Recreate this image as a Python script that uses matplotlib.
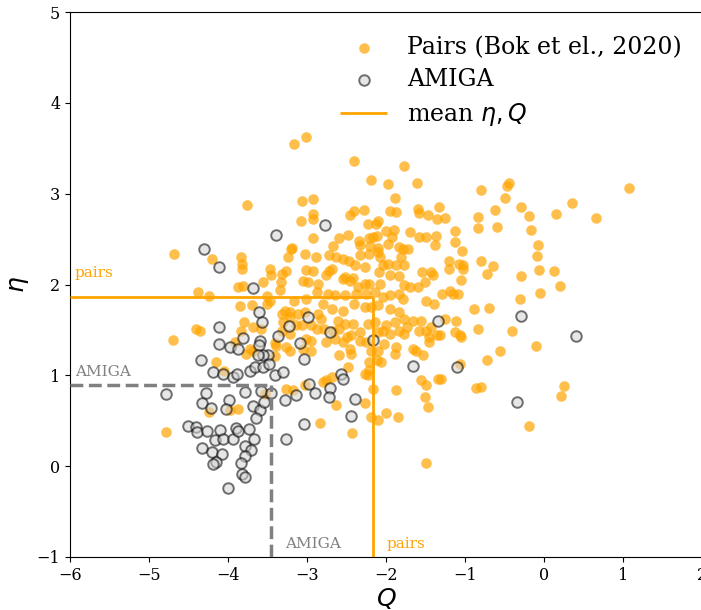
import matplotlib

matplotlib.use("Agg")

import matplotlib.pyplot as plt

# ── Data ─────────────────────────────────────────────────────────────────────
pairs_q = [
    -3.17, -3.01, -2.40, -1.77, -2.19, -1.98, -1.61, -1.89, -3.07, -2.92, -3.08, -2.93, -2.92,
    -2.46, -2.41, -2.28, -1.95, -1.88, -1.60, -1.58, -1.47, -1.36, -1.33, -2.23, -2.13, -2.10,
    -2.00, -1.90, -1.70, -2.92, -2.60, -2.48, -2.34, -2.33, -2.21, -2.17, -2.11, -2.20, -2.10,
    -1.98, -1.92, -1.83, -1.79, -1.72, -1.58, -1.49, -1.37, -1.38, -2.67, -2.72, -2.63, -2.54,
    -2.47, -2.39, -2.26, -2.21, -2.10, -2.08, -2.33, -1.81, -1.77, -2.04, -1.98, -1.87, -1.55,
    -1.43, -3.19, -3.03, -2.89, -3.01, -2.93, -2.72, -2.68, -2.76, -2.09, -1.95, -1.83, -2.52,
    -2.42, -1.40,
    # right-hand upper group
    -0.80, -0.44, -0.47, -0.50, -0.62, -0.29, -0.19, 0.15, 0.35, -0.84, -0.83, -0.59, -0.16,
    -1.25, -1.13, -1.13, -1.04, -0.08, -0.09, -0.07, 0.13, -0.80, -0.65, -0.72, -0.29, -1.20,
    -1.20, -1.08, -1.03, -1.02, -1.05, 1.07, 0.66,
    # right-hand lower group
    0.20, -0.05, -0.31, -1.29, -1.19, -1.15, -1.09, -0.89, -0.70, -1.12, -1.26, -1.43, -1.32,
    -1.45, -1.13, -1.07, -1.05, -0.83, -0.41, -0.56, -0.10, -0.72, -1.07, -1.30, -0.86, -0.80,
    0.25, 0.22, -0.19, -1.49, -2.43,
    # central dense block
    -3.05, -2.99, -2.86, -2.54, -2.46, -2.36, -2.27, -2.21, -2.08, -1.77, -1.70, -1.60, -1.51,
    -2.88, -2.73, -2.65, -2.52, -2.38, -2.25, -2.14, -2.04, -1.95, -1.83, -1.79, -1.49, -1.39,
    -3.16, -3.01, -2.80, -2.69, -2.54, -2.40, -2.27, -2.19, -2.10, -1.95, -1.83, -1.77, -1.66,
    -1.56, -3.22, -3.11, -3.03, -2.86, -2.82, -2.61, -2.52, -2.42, -2.33, -2.23, -2.14, -2.00,
    -1.89, -1.74, -3.14, -3.07, -2.95, -2.88, -2.78, -2.67, -2.59, -2.50, -2.44, -2.33, -2.25,
    -2.10, -2.04, -1.95, -1.83, -1.77, -1.58, -1.49, -1.45, -1.36, -3.22, -3.01, -2.95, -2.76,
    -2.65, -2.54, -2.19, -2.10, -2.02, -1.87, -1.89, -1.66, -1.62, -1.53, -3.22, -3.05, -2.95,
    -2.59, -2.46, -2.44, -2.21, -2.12, -2.06, -2.48, -2.27, -2.21, -2.23, -2.76, -2.69, -2.80,
    -3.03, -3.18, -2.17, -1.87, -1.56, -1.49, -1.34, -2.63, -2.27, -1.51, -1.47, -2.00, -1.85,
    -2.19, -2.10, -2.84,
    # left group
    -3.76, -4.68, -4.20, -3.83, -3.82, -3.82, -3.88, -3.81, -4.38, -4.24, -3.56, -3.51, -3.47,
    -3.46, -3.32, -3.33, -3.34, -3.24, -3.20, -3.26, -3.47, -3.51, -3.85, -3.70, -3.80, -3.84,
    -3.68, -3.58, -4.41, -4.36, -4.70, -3.32, -3.28, -3.22, -3.30, -3.32, -3.26, -3.91, -3.72,
    -3.77, -3.68, -3.41, -3.39, -3.40, -4.15, -4.05, -4.79, -4.24, -3.98, -3.88, -3.26, -3.53,
]
pairs_eta = [
    3.55, 3.62, 3.36, 3.31, 3.15, 3.11, 3.12, 2.95, 2.92, 2.94, 2.70, 2.78, 2.72,
    2.77, 2.81, 2.82, 2.81, 2.80, 2.83, 2.79, 2.76, 2.72, 2.85, 2.67, 2.67, 2.70,
    2.59, 2.60, 2.58, 2.51, 2.51, 2.54, 2.48, 2.43, 2.51, 2.52, 2.53, 2.42, 2.40,
    2.45, 2.52, 2.41, 2.39, 2.39, 2.52, 2.52, 2.53, 2.43, 2.42, 2.32, 2.30, 2.28,
    2.26, 2.21, 2.19, 2.34, 2.36, 2.30, 2.32, 2.30, 2.22, 2.21, 2.23, 2.22, 2.14,
    2.14, 2.40, 2.34, 2.30, 2.16, 2.15, 2.15, 2.17, 2.10, 2.14, 2.11, 2.09, 2.08,
    2.07, 2.11,
    3.04, 3.12, 3.08, 2.95, 2.82, 2.85, 2.75, 2.78, 2.90, 2.74, 2.62, 2.63, 2.60,
    2.73, 2.59, 2.47, 2.37, 2.44, 2.31, 2.16, 2.15, 2.26, 2.20, 2.12, 2.09, 2.26,
    2.17, 2.23, 2.21, 2.17, 2.05, 3.06, 2.73,
    1.98, 1.91, 1.84, 1.90, 1.93, 1.89, 1.90, 1.73, 1.74, 1.60, 1.62, 1.53, 1.44,
    1.37, 1.48, 1.44, 1.42, 1.51, 1.49, 1.27, 1.32, 1.17, 1.13, 0.96, 0.86, 0.87,
    0.88, 0.77, 0.44, 0.04, 0.36,
    2.04, 2.03, 2.01, 2.06, 2.04, 1.97, 2.01, 2.01, 2.01, 1.99, 1.97, 1.97, 2.03,
    1.92, 1.90, 1.88, 1.88, 1.90, 1.90, 1.92, 1.86, 1.88, 1.90, 1.84, 1.82, 1.79,
    1.82, 1.84, 1.79, 1.73, 1.71, 1.79, 1.75, 1.75, 1.77, 1.73, 1.70, 1.62, 1.60,
    1.60, 1.70, 1.68, 1.70, 1.68, 1.62, 1.60, 1.57, 1.57, 1.48, 1.57, 1.59, 1.55,
    1.59, 1.53, 1.55, 1.55, 1.55, 1.51, 1.51, 1.49, 1.51, 1.42, 1.44, 1.38, 1.37,
    1.48, 1.49, 1.46, 1.49, 1.46, 1.49, 1.49, 1.42, 1.44, 1.46, 1.40, 1.38, 1.37,
    1.40, 1.37, 1.27, 1.27, 1.35, 1.31, 1.24, 1.29, 1.27, 1.22, 1.27, 1.29, 1.27,
    1.22, 1.29, 1.24, 1.15, 1.17, 1.15, 1.09, 1.02, 1.06, 1.00, 0.95, 0.98, 0.93,
    0.89, 0.84, 0.85, 0.84, 0.95, 0.89, 0.96, 0.67, 0.69, 0.76, 0.65, 0.59, 0.54,
    0.54, 0.51, 0.47,
    2.88, 2.34, 2.28, 2.30, 2.23, 2.17, 1.97, 1.98, 1.92, 1.87, 2.03, 1.87, 2.17,
    2.11, 2.12, 2.03, 1.94, 2.30, 2.39, 2.15, 1.82, 1.79, 1.76, 1.77, 1.59, 1.49,
    1.53, 1.51, 1.51, 1.49, 1.39, 1.68, 1.71, 1.64, 1.59, 1.49, 1.31, 1.37, 1.29,
    1.23, 1.27, 1.36, 1.32, 1.21, 1.15, 1.05, 0.38, 0.60, 0.62, 0.63, 0.85, 0.79,
]

amiga_q = [
    -4.31, -4.11, -3.39, -2.77, -3.68, -3.61, -3.57, -4.12, -3.81, -3.98, -3.88, -4.11, -3.60,
    -3.61, -3.37, -3.23, -4.34, -4.19, -4.06, -3.94, -3.89, -3.72, -3.66, -3.56, -3.49, -3.56,
    -3.62, -3.41, -3.31, -3.48,
    -2.99, -2.71, -3.09, -3.04, -2.17, -1.66, -1.34, -2.57, -2.55, -2.97, -3.14, -2.90, -2.71,
    -2.72, -2.39, -2.44, -3.04, -3.28, -3.26, -0.29, 0.40, -1.10, -0.34,
    -4.79, -4.28, -4.33, -4.21, -3.99, -4.02, -3.79, -3.69, -3.60, -3.65, -3.58, -3.55, -3.45,
    -4.51, -4.41, -4.39, -4.26, -4.10, -4.16, -4.07, -3.94, -3.90, -3.87, -3.74, -3.67, -4.33,
    -4.20, -4.08, -4.15, -4.19, -3.78, -3.71, -3.79, -3.84, -3.82, -3.79, -4.00,
]
amiga_eta = [
    2.39, 2.19, 2.54, 2.66, 1.96, 1.70, 1.59, 1.53, 1.41, 1.31, 1.29, 1.35, 1.38,
    1.33, 1.43, 1.54, 1.17, 1.04, 1.01, 0.98, 1.01, 1.05, 1.09, 1.09, 1.22, 1.22,
    1.22, 1.00, 1.04, 1.12,
    1.64, 1.48, 1.36, 1.18, 1.39, 1.10, 1.60, 1.01, 0.96, 0.90, 0.78, 0.80, 0.86,
    0.76, 0.74, 0.55, 0.46, 0.73, 0.30, 1.65, 1.43, 1.09, 0.71,
    0.79, 0.80, 0.70, 0.64, 0.73, 0.63, 0.82, 0.66, 0.62, 0.53, 0.83, 0.71, 0.80,
    0.44, 0.43, 0.38, 0.39, 0.40, 0.29, 0.30, 0.30, 0.42, 0.39, 0.41, 0.30, 0.20,
    0.16, 0.13, 0.05, 0.02, 0.22, 0.18, 0.11, 0.03, -0.09, -0.12, -0.24,
]

# sample means as drawn in the reference
pairs_mean_q, pairs_mean_eta = -2.17, 1.86
amiga_mean_q, amiga_mean_eta = -3.46, 0.89

ORANGE = "orange"
GREY = "grey"

plt.rcParams.update({"font.family": "serif", "mathtext.fontset": "dejavusans"})

fig = plt.figure(figsize=(7.01, 6.10), dpi=100)
ax = fig.add_axes([0.0999, 0.0869, 0.9016, 0.8934])

ax.scatter(pairs_q, pairs_eta, s=58, color=ORANGE, alpha=0.7, linewidths=0,
           label="Pairs (Bok et el., 2020)", zorder=2)
ax.scatter(amiga_q, amiga_eta, s=58, facecolor="lightgrey", edgecolor="k",
           linewidths=1.4, alpha=0.55, label="AMIGA", zorder=3)

ax.hlines(pairs_mean_eta, -6, pairs_mean_q, color=ORANGE, lw=2, label=r"mean $\eta, Q$", zorder=4)
ax.vlines(pairs_mean_q, -1, pairs_mean_eta, color=ORANGE, lw=2, zorder=4)
ax.hlines(amiga_mean_eta, -6, amiga_mean_q, color=GREY, lw=2.5, linestyles="--", zorder=4)
ax.vlines(amiga_mean_q, -1, amiga_mean_eta, color=GREY, lw=2.5, linestyles="--", zorder=4)

ax.text(-5.94, 2.08, "pairs", color=ORANGE, fontsize=11)
ax.text(-5.94, 0.99, "AMIGA", color=GREY, fontsize=11)
ax.text(-3.28, -0.90, "AMIGA", color=GREY, fontsize=11)
ax.text(-1.99, -0.90, "pairs", color=ORANGE, fontsize=11)

ax.set_xlim(-6, 2)
ax.set_ylim(-1, 5)
ax.set_xlabel(r"$Q$", fontsize=18, labelpad=2)
ax.set_ylabel(r"$\eta$", fontsize=18)
ax.tick_params(labelsize=11.5)

ax.legend(loc="upper right", frameon=False, fontsize=17, handletextpad=0.85,
          labelspacing=0.4, bbox_to_anchor=(1.002, 0.995))

fig.savefig("out.png", dpi=100)
